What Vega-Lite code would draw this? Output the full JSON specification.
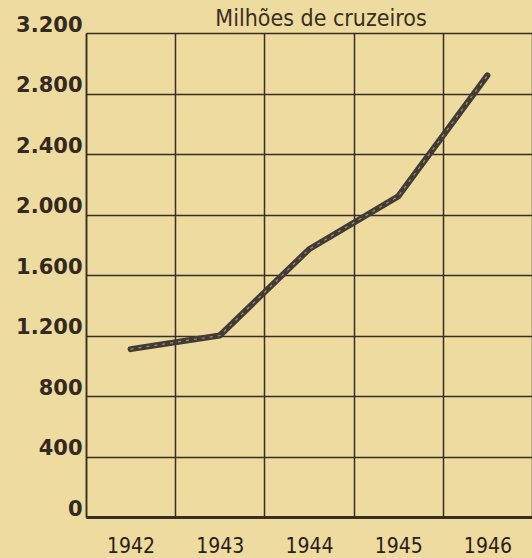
{
  "$schema": "https://vega.github.io/schema/vega-lite/v6.json",
  "width": 446,
  "height": 484,
  "autosize": {"type": "none"},
  "padding": {"left": 86, "top": 33, "right": 0, "bottom": 41},
  "background": "#eddba0",
  "config": {"view": {"stroke": null}},
  "title": {
    "text": "Milhões de cruzeiros",
    "font": "DejaVu Sans Condensed",
    "fontSize": 23,
    "fontWeight": "normal",
    "color": "#3a2e22",
    "anchor": "middle",
    "frame": "group",
    "dx": 12,
    "offset": -35,
    "baseline": "alphabetic"
  },
  "data": {
    "values": [
      {"ano": "1942", "valor": 1110},
      {"ano": "1943", "valor": 1200},
      {"ano": "1944", "valor": 1770},
      {"ano": "1945", "valor": 2120},
      {"ano": "1946", "valor": 2920}
    ]
  },
  "encoding": {
    "x": {
      "field": "ano",
      "type": "ordinal",
      "scale": {"type": "band", "paddingInner": 0, "paddingOuter": 0},
      "axis": {
        "title": null,
        "tickBand": "extent",
        "grid": true,
        "gridColor": "#3a2e22",
        "gridWidth": 1.5,
        "gridOpacity": 1,
        "ticks": false,
        "domain": true,
        "domainColor": "#3a2e22",
        "domainWidth": 3,
        "labelFont": "DejaVu Sans Condensed",
        "labelFontSize": 21,
        "labelColor": "#2a2018",
        "labelPadding": 18,
        "labelAngle": 0
      }
    },
    "y": {
      "field": "valor",
      "type": "quantitative",
      "scale": {"domain": [0, 3200], "nice": false},
      "axis": {
        "title": null,
        "values": [0, 400, 800, 1200, 1600, 2000, 2400, 2800, 3200],
        "grid": true,
        "gridColor": "#3a2e22",
        "gridWidth": 1.5,
        "gridOpacity": 1,
        "ticks": false,
        "domain": true,
        "domainColor": "#3a2e22",
        "domainWidth": 1.5,
        "labelExpr": "replace(format(datum.value, ','), ',', '.')",
        "labelFont": "DejaVu Sans",
        "labelFontSize": 21,
        "labelFontWeight": "bold",
        "labelColor": "#33291f",
        "labelPadding": 4,
        "labelBaseline": "alphabetic",
        "labelOffset": -2,
        "labelFlush": false,
        "labelOverlap": false,
        "labelBound": false
      }
    }
  },
  "layer": [
    {"mark": {"type": "line", "color": "#423b34", "strokeWidth": 6, "strokeCap": "round", "strokeJoin": "round"}},
    {"mark": {"type": "line", "color": "#9a907c", "strokeWidth": 1.2, "strokeDash": [3, 5]}}
  ]
}
